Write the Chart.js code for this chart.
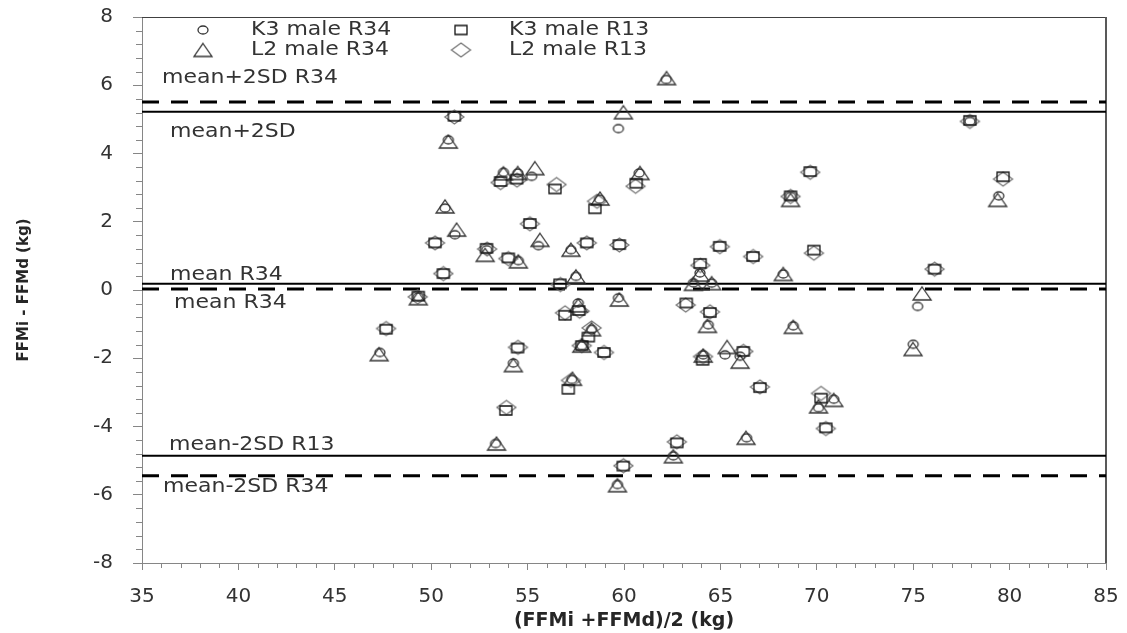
<!DOCTYPE html>
<html>
<head>
<meta charset="utf-8">
<script src="https://cdn.jsdelivr.net/npm/chart.js@4"></script>
<style>
  html, body { margin: 0; padding: 0; background: #fff; }
</style>
</head>
<body>
<canvas id="chart" width="1127" height="633"></canvas>
<script>
// K3 male R34 (circles)
const k3R34X = [50.89, 50.72, 51.23, 49.33, 47.34, 52.88, 53.75, 54.49, 55.21, 54.52, 55.56, 57.25, 57.51, 54.26, 53.34, 62.19, 59.71, 60.79, 58.73, 59.71, 57.63, 57.81, 57.29, 63.60, 63.94, 64.55, 68.26, 64.37, 68.78, 64.11, 65.24, 66.02, 66.36, 62.56, 59.66, 68.64, 77.94, 79.44, 75.23, 75.00, 70.09, 70.88, 58.32];
const k3R34Y = [4.40, 2.40, 1.62, -0.20, -1.83, 1.18, 3.45, 3.43, 3.33, 0.86, 1.30, 1.18, 0.40, -2.14, -4.50, 6.17, 4.73, 3.43, 2.66, -0.23, -0.38, -1.63, -2.62, 0.21, 0.50, 0.20, 0.47, -1.02, -1.05, -1.90, -1.90, -1.94, -4.33, -4.86, -5.70, 2.74, 4.94, 2.76, -0.48, -1.59, -3.45, -3.20, -1.15];
// K3 male R13 (squares)
const k3R13X = [51.20, 50.20, 50.63, 49.33, 47.66, 52.87, 53.60, 54.43, 56.42, 55.12, 54.00, 58.07, 56.68, 54.48, 53.87, 60.63, 58.49, 59.76, 64.96, 66.69, 63.95, 63.23, 64.46, 57.65, 56.94, 58.15, 57.81, 58.96, 57.11, 64.08, 66.19, 67.05, 62.74, 59.96, 68.64, 69.66, 69.85, 76.11, 77.94, 79.66, 70.22, 70.47];
const k3R13Y = [5.09, 1.38, 0.48, -0.18, -1.15, 1.22, 3.18, 3.25, 2.96, 1.95, 0.94, 1.38, 0.18, -1.70, -3.53, 3.13, 2.38, 1.33, 1.28, 0.98, 0.78, -0.38, -0.66, -0.60, -0.74, -1.38, -1.63, -1.83, -2.91, -2.06, -1.80, -2.86, -4.48, -5.16, 2.76, 3.47, 1.17, 0.61, 4.97, 3.32, -3.17, -4.04];
// L2 male R34 (triangles)
const l2R34X = [50.89, 50.72, 51.32, 49.33, 47.30, 52.80, 53.75, 54.49, 55.38, 54.52, 55.64, 57.25, 57.51, 54.26, 53.39, 62.21, 59.97, 60.83, 58.76, 59.76, 57.63, 57.81, 57.33, 63.60, 63.94, 64.55, 68.26, 64.33, 68.78, 64.11, 65.35, 66.02, 66.33, 62.56, 59.66, 68.64, 79.38, 75.46, 74.99, 70.09, 70.88, 58.32];
const l2R34Y = [4.35, 2.45, 1.77, -0.24, -1.88, 1.03, 3.42, 3.43, 3.57, 0.84, 1.47, 1.18, 0.40, -2.20, -4.50, 6.21, 5.21, 3.43, 2.68, -0.28, -0.45, -1.63, -2.60, 0.18, 0.45, 0.20, 0.47, -1.05, -1.08, -1.92, -1.67, -2.10, -4.33, -4.87, -5.72, 2.64, 2.64, -0.10, -1.73, -3.41, -3.22, -1.15];
// L2 male R13 (diamonds)
const l2R13X = [51.20, 50.20, 50.63, 49.30, 47.66, 52.90, 53.60, 54.45, 56.50, 55.12, 54.00, 58.07, 56.70, 54.50, 53.90, 60.60, 58.60, 59.76, 64.97, 66.70, 63.96, 63.20, 64.46, 57.70, 56.94, 58.32, 57.81, 58.96, 57.25, 64.10, 66.19, 67.05, 62.74, 59.97, 68.64, 69.66, 69.85, 76.11, 77.94, 79.66, 70.22, 70.47];
const l2R13Y = [5.07, 1.38, 0.48, -0.20, -1.13, 1.20, 3.15, 3.22, 3.09, 1.94, 0.92, 1.38, 0.16, -1.68, -3.44, 3.04, 2.60, 1.32, 1.27, 0.98, 0.72, -0.44, -0.64, -0.62, -0.67, -1.11, -1.63, -1.83, -2.65, -1.95, -1.80, -2.84, -4.45, -5.15, 2.74, 3.45, 1.08, 0.61, 4.94, 3.25, -3.03, -4.06];

const seriesNames = ['K3 male R34', 'K3 male R13', 'L2 male R34', 'L2 male R13'];

// reference lines (mean and limits)
const refLineNames = ['mean+2SD R34', 'mean+2SD', 'mean R34', 'mean R34', 'mean-2SD R13', 'mean-2SD R34'];
const refLineValues = [5.51, 5.22, 0.18, 0.03, -4.86, -5.44];

const xRange = [35, 85];
const yRange = [-8, 8];

const FONT = 'DejaVu Sans';

function markerCanvas(shape, w, h, color) {
  const c = document.createElement('canvas');
  c.width = w + 4;
  c.height = h + 4;
  const g = c.getContext('2d');
  g.strokeStyle = color;
  g.lineWidth = 1.3;
  g.translate(c.width / 2, c.height / 2);
  g.beginPath();
  if (shape === 'circle') {
    g.ellipse(0, 0, w / 2, h / 2, 0, 0, Math.PI * 2);
  } else if (shape === 'square') {
    g.rect(-w / 2, -h / 2, w, h);
  } else if (shape === 'triangle') {
    g.moveTo(0, -h / 2);
    g.lineTo(w / 2, h / 2);
    g.lineTo(-w / 2, h / 2);
    g.closePath();
  } else {
    g.moveTo(0, -h / 2);
    g.lineTo(w / 2, 0);
    g.lineTo(0, h / 2);
    g.lineTo(-w / 2, 0);
    g.closePath();
  }
  g.stroke();
  return c;
}

const markers = [
  markerCanvas('circle', 10, 8, '#333'),
  markerCanvas('square', 12, 9, '#111'),
  markerCanvas('triangle', 18, 13, '#333'),
  markerCanvas('diamond', 19, 14, '#777')
];

const pts = (xs, ys) => xs.map((x, i) => ({x: x, y: ys[i]}));
const seriesData = [pts(k3R34X, k3R34Y), pts(k3R13X, k3R13Y), pts(l2R34X, l2R34Y), pts(l2R13X, l2R13Y)];

const datasets = seriesData.map((d, i) => ({
  label: seriesNames[i],
  data: d,
  pointStyle: markers[i],
  pointRadius: 5,
  showLine: false
}));

const dashedLine = [true, false, false, true, false, true];
refLineValues.forEach((v, i) => {
  datasets.push({
    label: refLineNames[i],
    data: [{x: xRange[0], y: v}, {x: xRange[1], y: v}],
    showLine: true,
    pointRadius: 0,
    borderColor: '#000',
    borderWidth: dashedLine[i] ? 3 : 2,
    borderDash: dashedLine[i] ? [17, 12] : []
  });
});

function wideText(ctx, text, x, y) {
  ctx.save();
  ctx.translate(x, y);
  ctx.scale(1.1, 1);
  ctx.fillText(text, 0, 0);
  ctx.restore();
}

const decor = {
  id: 'decor',
  beforeDatasetsDraw(chart) {
    const ctx = chart.ctx;
    const a = chart.chartArea;
    const xs = chart.scales.x, ys = chart.scales.y;
    ctx.save();
    ctx.strokeStyle = '#868686';
    ctx.lineWidth = 1;
    ctx.beginPath();
    for (let v = xRange[0] + 1; v < xRange[1]; v++) {
      if (v % 5 === 0) continue;
      const px = Math.round(xs.getPixelForValue(v)) + 0.5;
      ctx.moveTo(px, a.bottom);
      ctx.lineTo(px, a.bottom + 5);
    }
    for (let i = 1; i < 40; i++) {
      if (i % 5 === 0) continue;
      const py = Math.round(ys.getPixelForValue(yRange[0] + 0.4 * i)) + 0.5;
      ctx.moveTo(a.left - 6, py);
      ctx.lineTo(a.left, py);
    }
    ctx.stroke();
    // top and right frame
    ctx.strokeStyle = '#404040';
    ctx.beginPath();
    ctx.moveTo(a.left, a.top + 0.5);
    ctx.lineTo(a.right, a.top + 0.5);
    ctx.stroke();
    ctx.strokeStyle = '#595959';
    ctx.lineWidth = 2;
    ctx.beginPath();
    ctx.moveTo(a.right, a.top);
    ctx.lineTo(a.right, a.bottom);
    ctx.stroke();
    ctx.restore();
  },
  afterDatasetsDraw(chart) {
    const ctx = chart.ctx;
    const ys = chart.scales.y;
    ctx.save();
    ctx.fillStyle = '#333';
    ctx.font = '20px "' + FONT + '"';
    ctx.textBaseline = 'middle';
    ctx.textAlign = 'left';
    const lx = [162, 170, 170, 174, 169, 163];
    const dy = [-24, 20, -9, 14, -11, 11];
    refLineNames.forEach((t, i) => {
      wideText(ctx, t, lx[i], ys.getPixelForValue(refLineValues[i]) + dy[i]);
    });
    // legend
    const pos = [[203, 30], [461, 30], [203, 50], [461, 50]];
    seriesNames.forEach((t, i) => {
      const m = markers[i];
      const [x, y] = pos[i];
      ctx.drawImage(m, x - m.width / 2, y - m.height / 2);
      wideText(ctx, t, x + 48, y);
    });
    ctx.restore();
  }
};

new Chart(document.getElementById('chart'), {
  type: 'scatter',
  data: { datasets: datasets },
  options: {
    responsive: false,
    animation: false,
    devicePixelRatio: 1,
    events: [],
    layout: { padding: { top: 17, right: 21, left: 0, bottom: 0 } },
    plugins: { legend: { display: false }, tooltip: { enabled: false } },
    scales: {
      x: {
        type: 'linear',
        position: 'bottom',
        min: xRange[0],
        max: xRange[1],
        ticks: { stepSize: 5, color: '#333', padding: 15, font: { family: FONT, size: 20 } },
        grid: { drawOnChartArea: false, drawTicks: true, tickLength: 7, color: '#868686' },
        border: { color: '#868686', width: 1 },
        title: {
          display: true,
          text: '(FFMi +FFMd)/2 (kg)',
          color: '#262626',
          font: { family: FONT, size: 19, weight: 'bold' },
          padding: { top: 0, bottom: 1 }
        },
        afterFit(s) {
          s.height = 70;
          s.paddingLeft = 0;
          s.paddingRight = 0;
        }
      },
      y: {
        type: 'linear',
        min: yRange[0],
        max: yRange[1],
        ticks: { stepSize: 2, color: '#333', padding: 20, font: { family: FONT, size: 20 } },
        grid: { drawOnChartArea: false, drawTicks: true, tickLength: 9, color: '#868686' },
        border: { color: '#868686', width: 1 },
        title: {
          display: true,
          text: 'FFMi - FFMd (kg)',
          color: '#262626',
          font: { family: FONT, size: 15, weight: 'bold' },
          padding: { top: 15, bottom: 0 }
        },
        afterFit(s) {
          s.width = 142;
          s.paddingTop = 0;
          s.paddingBottom = 0;
        }
      }
    }
  },
  plugins: [decor]
});
</script>
</body>
</html>
